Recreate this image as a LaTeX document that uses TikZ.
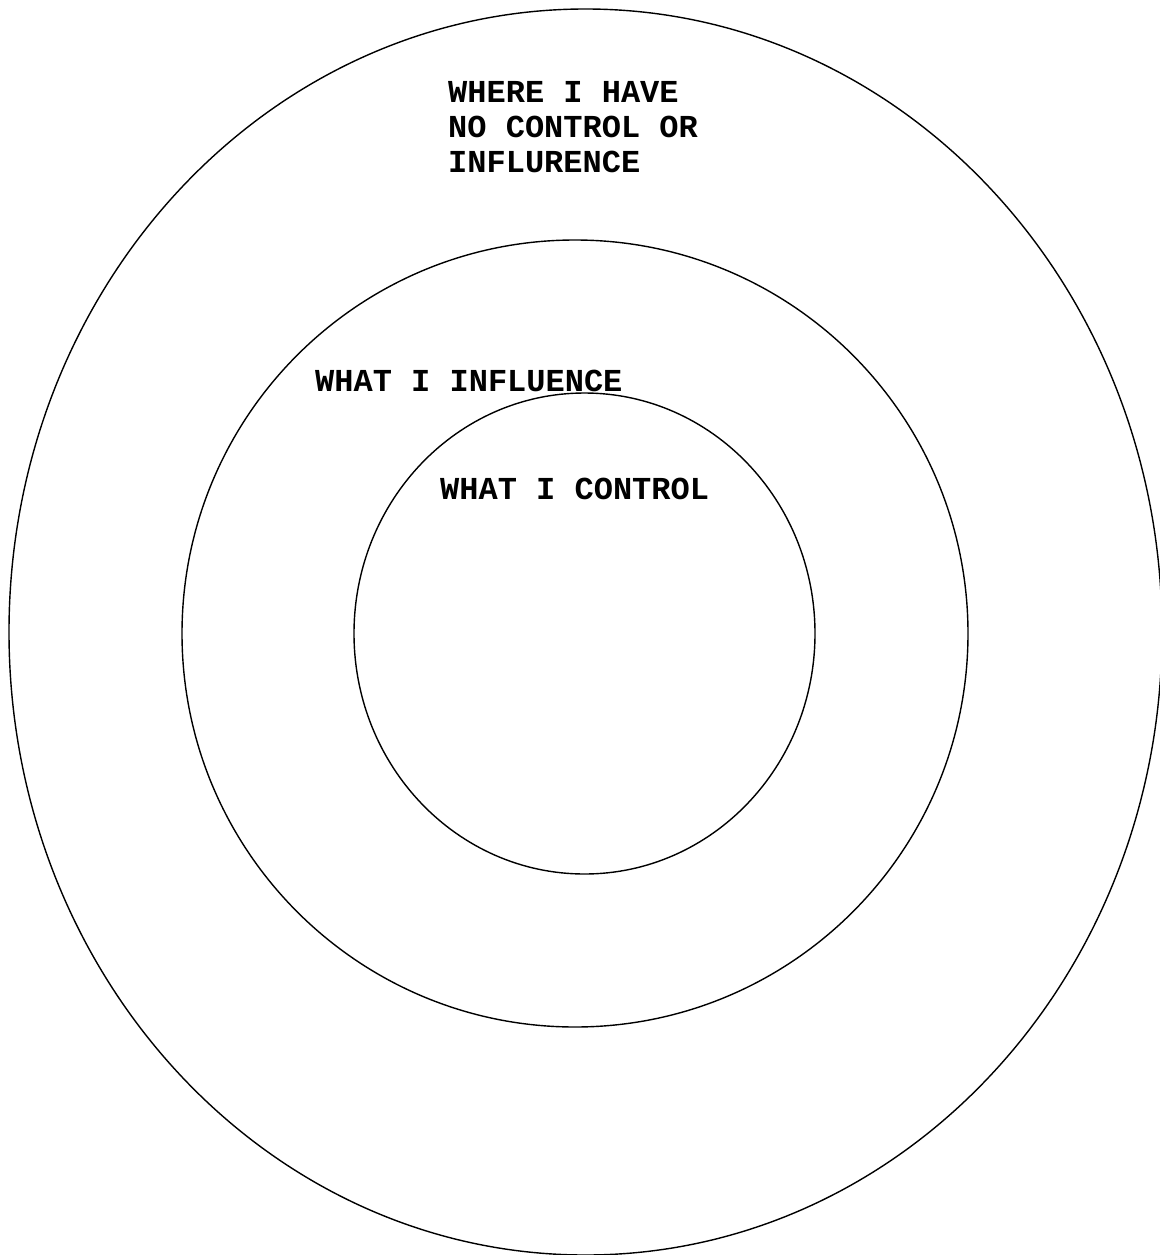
\documentclass[tikz,border=0pt]{standalone}
\usepackage{fontspec}
\newfontfamily\labelfont{Liberation Mono}
\begin{document}
\begin{tikzpicture}[x=1pt,y=-1pt,
  ring/.style={draw=black,line width=1.4pt},
  lbl/.style={anchor=base west,inner sep=0pt,font=\labelfont\bfseries\fontsize{32}{35}\selectfont}]
\useasboundingbox[fill=white] (0,0) rectangle (1159,1255);
\draw[ring] (585.5,632) ellipse [x radius=576.5pt, y radius=623pt];
\draw[ring] (575,633.5) ellipse [x radius=393pt, y radius=393.5pt];
\draw[ring] (584.5,633.5) ellipse [x radius=230.5pt, y radius=240.5pt];
\node[lbl] (l1) at (448,102) {WHERE I HAVE};
\node[lbl] (l2) at (448,137) {NO CONTROL OR};
\node[lbl] (l3) at (448,172) {INFLURENCE};
\node[lbl] (inf) at (315,391) {WHAT I INFLUENCE};
\node[lbl] (ctl) at (440,499) {WHAT I CONTROL};
\end{tikzpicture}
\end{document}
